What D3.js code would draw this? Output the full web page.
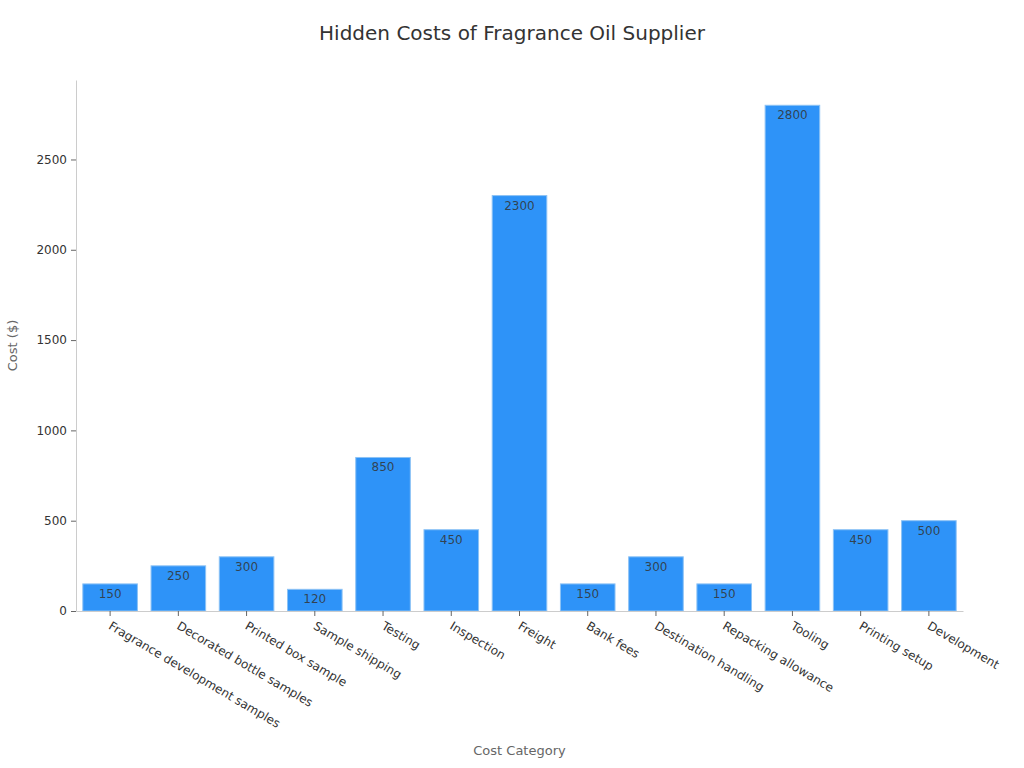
<!DOCTYPE html>
<html lang="en">
<head>
  <meta charset="UTF-8">
  <title>Hidden Costs of Fragrance Oil Supplier</title>
  <script src="https://d3js.org/d3.v7.min.js"></script>
  <style>
    body { margin: 0; background: #fff; }
    text { font-family: "DejaVu Sans", sans-serif; }
  </style>
</head>
<body>
  <script>
    // chart data
    const categories = [
      "Fragrance development samples", "Decorated bottle samples", "Printed box sample",
      "Sample shipping", "Testing", "Inspection", "Freight", "Bank fees",
      "Destination handling", "Repacking allowance", "Tooling", "Printing setup", "Development"
    ];
    const costs = [150, 250, 300, 120, 850, 450, 2300, 150, 300, 150, 2800, 450, 500];
    const yTicks = [0, 500, 1000, 1500, 2000, 2500];

    const width = 1024;
    const height = 768;
    const margin = { top: 80, right: 61, bottom: 157, left: 76 };

    const svg = d3.select("body")
      .append("svg")
      .attr("width", width)
      .attr("height", height);

    // scales
    const x = d3.scaleBand()
      .domain(categories)
      .range([margin.left, width - margin.right])
      .paddingInner(0.2)
      .paddingOuter(0.1);

    const y = d3.scaleLinear()
      .domain([0, 2940])
      .range([height - margin.bottom, margin.top]);

    // title
    svg.append("text")
      .attr("x", 512)
      .attr("y", 40)
      .attr("text-anchor", "middle")
      .attr("font-size", 20)
      .attr("fill", "#333")
      .text("Hidden Costs of Fragrance Oil Supplier");

    // y axis
    const yAxis = svg.append("g")
      .attr("transform", `translate(${margin.left},0)`)
      .call(d3.axisLeft(y).tickValues(yTicks).tickFormat(d3.format("d"))
        .tickSize(5).tickPadding(4).tickSizeOuter(0));
    yAxis.select(".domain").attr("stroke", "#ccc");
    yAxis.selectAll(".tick line").attr("stroke", "#666");
    yAxis.selectAll(".tick text").attr("font-size", 12).attr("fill", "#333");

    // bars
    svg.selectAll("rect.bar")
      .data(costs)
      .enter()
      .append("rect")
      .attr("class", "bar")
      .attr("x", (d, i) => x(categories[i]))
      .attr("y", d => y(d))
      .attr("width", x.bandwidth())
      .attr("height", d => y(0) - y(d))
      .attr("fill", "#2e93f8")
      .attr("stroke", "#8cc2f5")
      .attr("stroke-width", 1);

    // value labels
    svg.selectAll("text.value")
      .data(costs)
      .enter()
      .append("text")
      .attr("class", "value")
      .attr("x", (d, i) => x(categories[i]) + x.bandwidth() / 2)
      .attr("y", d => y(d) + 14)
      .attr("text-anchor", "middle")
      .attr("font-size", 12)
      .attr("fill", "#333")
      .attr("fill-opacity", 0.85)
      .text(d => d);

    // x axis
    const xAxis = svg.append("g")
      .attr("transform", `translate(0,${height - margin.bottom})`)
      .call(d3.axisBottom(x).tickSize(5).tickSizeOuter(0));
    xAxis.select(".domain").attr("stroke", "#ccc");
    xAxis.selectAll(".tick line").attr("stroke", "#666");
    xAxis.selectAll(".tick text")
      .attr("font-size", 12)
      .attr("fill", "#333")
      .attr("text-anchor", "start")
      .attr("transform", "translate(2,10) rotate(30.5)")
      .attr("dy", "0.71em")
      .attr("y", 0)
      .attr("x", 0);

    // axis titles
    svg.append("text")
      .attr("x", (margin.left + width - margin.right) / 2)
      .attr("y", 755)
      .attr("text-anchor", "middle")
      .attr("font-size", 13)
      .attr("fill", "#666")
      .text("Cost Category");

    svg.append("text")
      .attr("transform", `translate(17,${(margin.top + height - margin.bottom) / 2}) rotate(-90)`)
      .attr("text-anchor", "middle")
      .attr("font-size", 13)
      .attr("fill", "#666")
      .text("Cost ($)");
  </script>
</body>
</html>
